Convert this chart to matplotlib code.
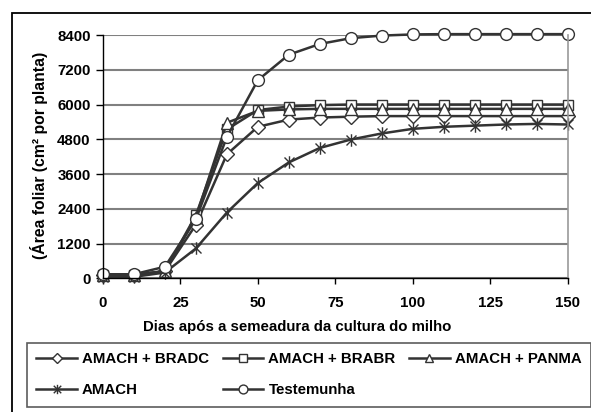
import matplotlib
matplotlib.use("Agg")
import matplotlib.pyplot as plt
from matplotlib.path import Path
from matplotlib.patches import Rectangle

plt.rcParams["font.family"] = ["Liberation Sans", "DejaVu Sans"]
plt.rcParams["font.weight"] = "bold"
plt.rcParams["font.size"] = 10.8

# Data
days = [0, 10, 20, 30, 40, 50, 60, 70, 80, 90, 100, 110, 120, 130, 140, 150]
bradc = [120, 110, 250, 1850, 4280, 5230, 5480, 5550, 5580, 5600, 5600, 5600, 5600, 5600, 5600, 5600]
brabr = [130, 120, 250, 2180, 5140, 5810, 5930, 5980, 6000, 6000, 6000, 6000, 6000, 6000, 6000, 6000]
panma = [120, 110, 240, 2100, 5370, 5780, 5830, 5850, 5850, 5850, 5850, 5850, 5850, 5850, 5850, 5850]
amach = [50, 50, 200, 1030, 2270, 3290, 4000, 4500, 4790, 5000, 5160, 5230, 5270, 5310, 5330, 5310]
testemunha = [140, 140, 400, 2040, 4880, 6840, 7720, 8090, 8290, 8380, 8420, 8430, 8430, 8430, 8430, 8430]

labels = ["AMACH + BRADC", "AMACH + BRABR", "AMACH + PANMA", "AMACH", "Testemunha"]
y_ticks = [0, 1200, 2400, 3600, 4800, 6000, 7200, 8400]
x_ticks = [0, 25, 50, 75, 100, 125, 150]

# asterisk marker like Excel's (vertical bar + X)
star = Path([(0, -1), (0, 1), (-0.8, -0.8), (0.8, 0.8), (-0.8, 0.8), (0.8, -0.8)],
            [Path.MOVETO, Path.LINETO, Path.MOVETO, Path.LINETO, Path.MOVETO, Path.LINETO])

W, H = 591, 412
fig = plt.figure(figsize=(W / 100, H / 100), dpi=100)
ax = fig.add_axes([103 / W, 1 - 278.3 / H, (567.5 - 103) / W, (278.3 - 35) / H])

lc = "#333333"
series = [
    (bradc, "D", 7),
    (brabr, "s", 7.5),
    (panma, "^", 8.5),
    (amach, star, 9),
    (testemunha, "o", 8.5),
]
handles = []
for (vals, mk, ms), lab in zip(series, labels):
    h, = ax.plot(days, vals, color=lc, lw=1.8, marker=mk, ms=ms, mfc="white",
                 mec=lc, mew=1.0, label=lab, clip_on=False)
    handles.append(h)

ax.set_xlim(0, 150)
ax.set_ylim(0, 8400)
ax.set_xticks(x_ticks)
ax.set_yticks(y_ticks)
ax.yaxis.grid(True, color="#808080", lw=1.5)
ax.set_axisbelow(True)
ax.spines["top"].set_visible(False)
ax.spines["right"].set_color("#999999")
ax.spines["right"].set_linewidth(1.2)
ax.spines["left"].set_linewidth(1.0)
ax.spines["bottom"].set_linewidth(1.0)
ax.tick_params(axis="x", direction="out", length=4, width=1, pad=9, labelsize=10.8)
ax.tick_params(axis="y", direction="out", length=5, width=1, pad=4, labelsize=10.8)

fig.text(39 / W, 1 - 155 / H, "(Área foliar (cm² por planta)", rotation=90,
         ha="center", va="center", fontsize=11.3, fontweight="bold")
fig.text(297 / W, 1 - 327 / H, "Dias após a semeadura da cultura do milho",
         ha="center", va="center", fontsize=10.8, fontweight="bold")

# row-wise order for a 3-column legend
order = [0, 3, 1, 4, 2]
leg = fig.legend([handles[i] for i in order], [labels[i] for i in order],
                 loc="upper left", bbox_to_anchor=(27 / W, 1 - 342.7 / H),
                 ncol=3, frameon=True, fancybox=False, edgecolor="#333333",
                 handlelength=2.7, handletextpad=0.35, columnspacing=0.9,
                 labelspacing=1.15, borderpad=0.62, borderaxespad=0, fontsize=10.8,
                 markerscale=0.75)
leg.get_frame().set_linewidth(1.2)

# outer chart-area frame
fig.patches.append(Rectangle((12 / W, -0.1), 1.2, 1.1 - 13 / H, transform=fig.transFigure,
                             fill=False, ec="black", lw=1.3, clip_on=False))

fig.savefig("out.png", dpi=100)
